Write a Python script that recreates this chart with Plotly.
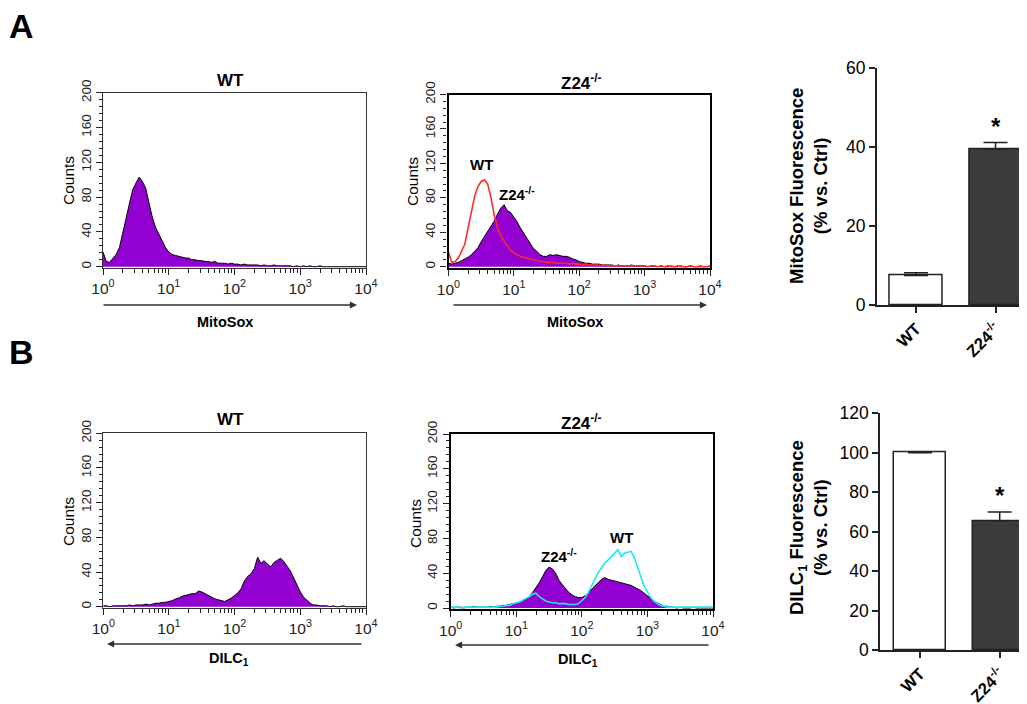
import plotly.graph_objects as go

# the page body adds an 8 px margin, so the figure is drawn 8 px smaller
# and all layout positions below are given in screen pixels
PAGE_W, PAGE_H = 1027, 704
OFF = 8
W, H = PAGE_W - OFF, PAGE_H - OFF


def px(x):
    return (x - OFF) / W


def py(y):
    return 1 - (y - OFF) / H


# ---------------- data ----------------
# histogram channels, in decades of fluorescence (10^0 ... 10^4)
channel_log = [round(0.05 * i, 2) for i in range(81)]
fluor = [10 ** v for v in channel_log]

mitosox_wt = [
    17, 6, 5, 9, 14, 22, 37, 55, 72, 88,
    96, 103, 98, 90, 73, 57, 45, 37, 29, 22,
    17, 14, 13, 12, 11, 10, 10, 8, 8, 7,
    7, 6, 6, 5, 6, 4, 4, 4, 3, 4,
    3, 3, 2, 3, 2, 2, 2, 2, 1, 2,
    1, 1, 2, 1, 1, 1, 1, 1, 0, 1,
    0, 1, 0, 1, 0, 0, 1, 0, 0, 0,
    0, 0, 0, 0, 0, 0, 0, 0, 0, 0, 0,
]
mitosox_wt_overlay = [
    17, 5, 6, 10, 18, 26, 45, 65, 82, 93,
    99, 101, 96, 80, 60, 45, 36, 30, 24, 19,
    16, 14, 12, 11, 10, 9, 8, 7, 6, 6,
    5, 5, 5, 4, 4, 4, 4, 3, 4, 3,
    3, 2, 3, 2, 2, 2, 2, 1, 2, 1,
    1, 1, 1, 1, 1, 1, 1, 1, 1, 1,
    1, 0, 1, 1, 0, 1, 0, 0, 1, 0,
    0, 1, 0, 0, 1, 0, 0, 1, 0, 0, 1,
]
mitosox_z24 = [
    4, 3, 4, 5, 7, 9, 11, 14, 18, 22,
    29, 35, 42, 48, 53, 61, 68, 72, 65, 63,
    58, 52, 45, 39, 33, 27, 21, 18, 14, 12,
    12, 14, 13, 14, 13, 12, 12, 11, 9, 8,
    6, 5, 4, 4, 3, 3, 3, 2, 2, 2,
    2, 1, 2, 1, 1, 1, 2, 1, 1, 1,
    1, 0, 1, 1, 0, 1, 0, 1, 0, 0,
    1, 0, 0, 0, 1, 0, 0, 0, 0, 0, 0,
]
dilc_wt = [
    1, 1, 0, 1, 1, 1, 1, 1, 2, 1,
    2, 2, 2, 3, 2, 3, 4, 4, 5, 5,
    6, 7, 9, 10, 12, 13, 14, 15, 15, 18,
    17, 15, 13, 11, 9, 8, 7, 6, 8, 10,
    13, 16, 21, 30, 35, 38, 44, 57, 50, 53,
    49, 46, 51, 54, 56, 52, 46, 41, 33, 25,
    17, 11, 7, 4, 2, 2, 1, 1, 1, 0,
    1, 0, 0, 1, 0, 0, 0, 0, 0, 0, 0,
]
dilc_z24 = [
    1, 0, 1, 1, 0, 1, 1, 2, 1, 1,
    1, 1, 2, 1, 2, 2, 3, 3, 4, 5,
    6, 7, 8, 10, 13, 18, 23, 29, 36, 43,
    47, 45, 40, 32, 27, 22, 18, 15, 13, 12,
    12, 14, 18, 22, 26, 30, 33, 35, 33, 32,
    31, 30, 29, 28, 27, 26, 24, 22, 20, 17,
    14, 10, 8, 6, 4, 2, 2, 1, 1, 0,
    1, 0, 0, 0, 1, 0, 0, 0, 0, 0, 0,
]
dilc_wt_overlay = [
    1, 1, 1, 0, 1, 1, 1, 1, 1, 1,
    1, 1, 1, 1, 1, 2, 2, 3, 3, 5,
    6, 7, 9, 11, 13, 16, 17, 13, 10, 8,
    7, 6, 6, 5, 5, 5, 4, 4, 4, 5,
    8, 12, 18, 26, 34, 41, 46, 52, 55, 59,
    62, 67, 59, 63, 64, 65, 58, 48, 36, 25,
    18, 12, 8, 5, 3, 2, 1, 1, 1, 1,
    1, 1, 1, 1, 1, 1, 1, 1, 1, 1, 1,
]

bar_groups = ["<b>WT</b>", "<b>Z24<sup>-/-</sup></b>"]
mitosox_mean = [7.5, 39.5]
mitosox_sem = [0.7, 1.7]
dilc_mean = [100, 65.5]
dilc_sem = [0, 4.5]

x_tick_vals = [1, 10, 100, 1000, 10000]
x_tick_text = ["10<sup>0</sup>", "10<sup>1</sup>", "10<sup>2</sup>",
               "10<sup>3</sup>", "10<sup>4</sup>"]
x_minor_vals = [m * 10 ** k for k in range(4) for m in range(2, 10)]
count_ticks = [0, 40, 80, 120, 160, 200]

# ---------------- styles ----------------
FONT = "Arial, Liberation Sans, Helvetica, sans-serif"
PURPLE = "#9200D2"
RED = "#FF2A2A"
CYAN = "#22E6F2"
INK = "#222222"

fig = go.Figure()


def hist_fill(y, xa, ya):
    fig.add_trace(go.Scatter(x=fluor, y=y, mode="lines", fill="tozeroy",
                             fillcolor=PURPLE, line=dict(color="black", width=1),
                             xaxis=xa, yaxis=ya, showlegend=False))


def hist_line(y, xa, ya, color):
    fig.add_trace(go.Scatter(x=fluor, y=y, mode="lines",
                             line=dict(color=color, width=1.6),
                             xaxis=xa, yaxis=ya, showlegend=False))


def bar(means, sems, xa, ya):
    fig.add_trace(go.Bar(x=[0, 1], y=means, width=0.66,
                         marker=dict(color=["white", "#3b3b3b"],
                                     line=dict(color=INK, width=1.5)),
                         error_y=dict(type="data", symmetric=False, array=sems,
                                      arrayminus=[0, 0], color=INK,
                                      thickness=1.5, width=12),
                         xaxis=xa, yaxis=ya, showlegend=False))


hist_fill(mitosox_wt, "x", "y")
hist_fill(mitosox_z24, "x2", "y2")
hist_line(mitosox_wt_overlay, "x2", "y2", RED)
bar(mitosox_mean, mitosox_sem, "x3", "y3")
hist_fill(dilc_wt, "x4", "y4")
hist_fill(dilc_z24, "x5", "y5")
hist_line(dilc_wt_overlay, "x5", "y5", CYAN)
bar(dilc_mean, dilc_sem, "x6", "y6")


def hist_x(x0, x1, lw, lc, anchor):
    return dict(domain=[px(x0), px(x1)], type="log", range=[0, 4],
                tickmode="array", tickvals=x_tick_vals, ticktext=x_tick_text,
                ticks="outside", ticklen=6, tickwidth=1.3, tickcolor=INK,
                minor=dict(tickmode="array", tickvals=x_minor_vals, ticks="outside",
                           ticklen=3.5, tickwidth=1.1, tickcolor=INK),
                showline=True, linecolor=lc, linewidth=lw, mirror=True,
                showgrid=False, zeroline=False, anchor=anchor, automargin=False,
                tickfont=dict(family=FONT, size=15.5, color=INK))


def hist_y(y_top, y_base, lw, lc, anchor):
    # y_base = pixel row of count 0; axis bottom sits 1.5 counts lower
    scale = (y_base - y_top) / 200.0
    bottom = y_base + 1.5 * scale
    return dict(domain=[py(bottom), py(y_top)], range=[-1.5, 200],
                tickmode="array", tickvals=count_ticks, tickangle=-90,
                ticks="outside", ticklen=6, tickwidth=1.3, tickcolor=INK,
                minor=dict(tickmode="linear", tick0=0, dtick=8, ticks="outside",
                           ticklen=3, tickwidth=1.1, tickcolor=INK),
                showline=True, linecolor=lc, linewidth=lw, mirror=True,
                showgrid=False, zeroline=False, anchor=anchor, automargin=False,
                tickfont=dict(family=FONT, size=13.5, color=INK))


xa1 = hist_x(103, 366, 1.2, "#333333", "y")
ya1 = hist_y(92.7, 266.7, 1.2, "#333333", "x")
xa2 = hist_x(448.5, 710, 2.2, "black", "y2")
ya2 = hist_y(94.5, 266.7, 2.2, "black", "x2")
xa4 = hist_x(103.3, 366, 1.2, "#333333", "y4")
ya4 = hist_y(433.3, 606.7, 1.2, "#333333", "x4")
xa5 = hist_x(450.7, 713, 2.2, "black", "y5")
ya5 = hist_y(434, 608, 2.2, "black", "x5")


def bar_x(x_axis_px, c0_px, unit_px, anchor):
    lo = -(c0_px - x_axis_px) / unit_px
    hi = (PAGE_W - c0_px) / unit_px
    return dict(domain=[px(x_axis_px), 1], range=[lo, hi], tickmode="array",
                tickvals=[0, 1], ticktext=bar_groups, tickangle=-45,
                ticks="outside", ticklen=6, tickwidth=1.5, tickcolor=INK,
                showline=True, linecolor=INK, linewidth=1.5, showgrid=False,
                zeroline=False, anchor=anchor, automargin=False,
                tickfont=dict(family=FONT, size=16.5, color="black"))


def bar_y(top_px, base_px, rng, dtick, anchor):
    return dict(domain=[py(base_px), py(top_px)], range=rng, dtick=dtick,
                ticks="outside", ticklen=6, tickwidth=1.5, tickcolor=INK,
                showline=True, linecolor=INK, linewidth=1.5, showgrid=False,
                zeroline=False, anchor=anchor, automargin=False,
                tickfont=dict(family=FONT, size=17.5, color="black"))


xa3 = bar_x(876.7, 916, 79.5, "y3")
ya3 = bar_y(68.3, 305, [0, 60], 20, "x3")
xa6 = bar_x(880, 920, 79.7, "y6")
ya6 = bar_y(413.3, 650, [0, 120], 20, "x6")

ann = []


def text(x, y, t, size=14, bold=False, angle=0, color="black"):
    ann.append(dict(x=px(x), y=py(y), xref="paper", yref="paper", text=t,
                    showarrow=False, textangle=angle, xanchor="center",
                    yanchor="middle",
                    font=dict(family=FONT, size=size, color=color,
                              weight="bold" if bold else "normal")))


def arrow(x_tail, x_head, y):
    ann.append(dict(x=px(x_head), y=py(y), ax=x_tail - x_head, ay=0,
                    xref="paper", yref="paper", axref="pixel", ayref="pixel",
                    text="", showarrow=True, arrowhead=2, arrowsize=1.1,
                    arrowwidth=1.3, arrowcolor="#333333"))


# panel letters
text(21, 26, "A", size=34, bold=True)
text(21, 352, "B", size=34, bold=True)

# panel titles
text(230, 81, "WT", size=17, bold=True)
text(581, 82, "Z24<sup>-/-</sup>", size=17, bold=True)
text(230, 419, "WT", size=17, bold=True)
text(581, 422, "Z24<sup>-/-</sup>", size=17, bold=True)

# counts labels
text(68, 181, "Counts", size=15.5, angle=-90)
text(412, 182, "Counts", size=15.5, angle=-90)
text(68, 522, "Counts", size=15.5, angle=-90)
text(415, 524, "Counts", size=15.5, angle=-90)

# overlay labels
text(481, 165, "WT", size=15, bold=True)
text(517, 194, "Z24<sup>-/-</sup>", size=15, bold=True)
text(559, 555, "Z24<sup>-/-</sup>", size=15, bold=True)
text(621, 537, "WT", size=15, bold=True)

# arrows + channel labels
arrow(102, 357, 305)
arrow(452, 707, 305)
arrow(363, 107, 644)
arrow(710, 455, 645)
text(225, 322, "MitoSox", size=14.5, bold=True)
text(575, 322, "MitoSox", size=14.5, bold=True)
text(229, 659, "DILC<sub>1</sub>", size=14.5, bold=True)
text(578, 660, "DILC<sub>1</sub>", size=14.5, bold=True)

# bar chart titles
text(808, 186, "MitoSox Fluorescence<br>(% vs. Ctrl)", size=18.5, bold=True, angle=-90)
text(808, 528, "DILC<sub>1</sub> Fluorescence<br>(% vs. Ctrl)", size=18.5, bold=True, angle=-90)

# significance stars
ann.append(dict(x=1, y=45.3, xref="x3", yref="y3", text="*", showarrow=False,
                font=dict(family=FONT, size=24, color="black", weight="bold")))
ann.append(dict(x=1, y=78.5, xref="x6", yref="y6", text="*", showarrow=False,
                font=dict(family=FONT, size=24, color="black", weight="bold")))

fig.update_layout(
    width=W, height=H, autosize=False,
    margin=dict(l=0, r=0, t=0, b=0),
    paper_bgcolor="white", plot_bgcolor="white",
    font=dict(family=FONT, color="black"),
    xaxis=xa1, yaxis=ya1, xaxis2=xa2, yaxis2=ya2,
    xaxis3=xa3, yaxis3=ya3, xaxis4=xa4, yaxis4=ya4,
    xaxis5=xa5, yaxis5=ya5, xaxis6=xa6, yaxis6=ya6,
    annotations=ann, bargap=0,
)

fig.write_html("out.html")
